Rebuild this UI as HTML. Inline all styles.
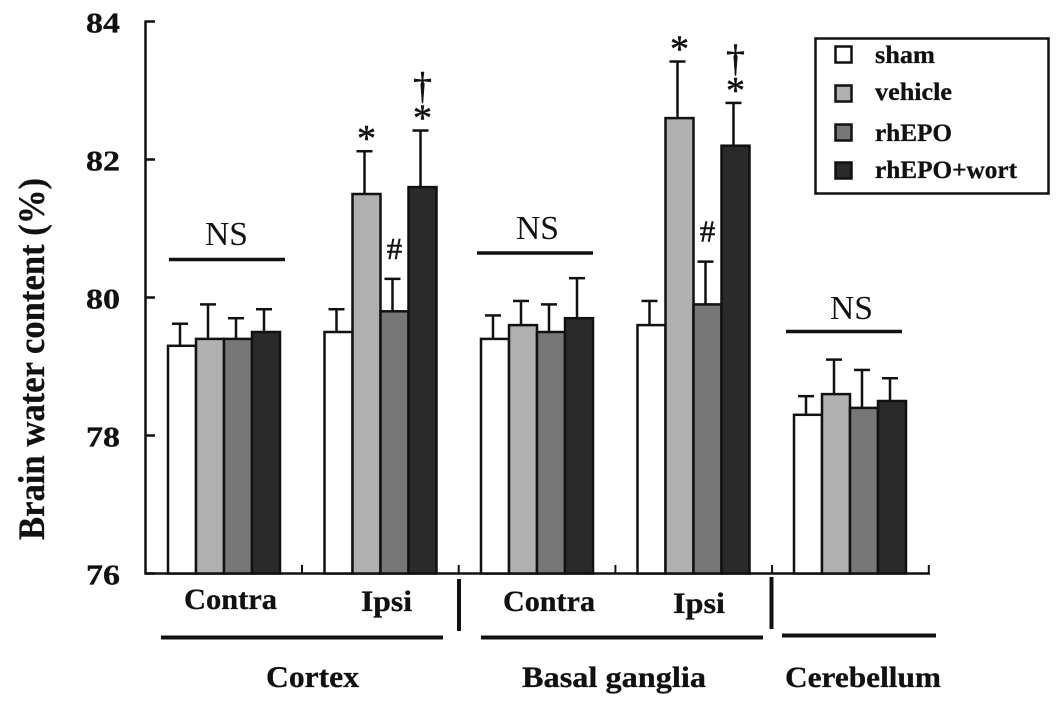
<!DOCTYPE html>
<html>
<head>
<meta charset="utf-8">
<style>
html,body{margin:0;padding:0;background:#fff;}
svg{display:block;}
text{font-family:"Liberation Serif",serif;fill:#111;}
.b{font-weight:bold;stroke:#111;stroke-width:0.3px;}
.m{stroke:#111;stroke-width:0.5px;}
</style>
</head>
<body>
<svg id="chart" width="1063" height="707" viewBox="0 0 1063 707" xmlns="http://www.w3.org/2000/svg">
  <text class="b" transform="translate(44,540) rotate(-90)" font-size="37" textLength="362" lengthAdjust="spacingAndGlyphs">Brain water content (%)</text>
  <g id="axes"></g>
  <g id="bars"></g>
  <g id="notes"></g>

  <g stroke="#111" stroke-width="3.5">
    <line x1="169" x2="285" y1="259.5" y2="259.5"/>
    <line x1="477" x2="593" y1="253" y2="253"/>
    <line x1="786" x2="902" y1="331.5" y2="331.5"/>
  </g>
  <text x="205" y="245" font-size="34" textLength="43" lengthAdjust="spacingAndGlyphs">NS</text>
  <text x="516" y="239" font-size="34" textLength="43" lengthAdjust="spacingAndGlyphs">NS</text>
  <text x="830" y="319" font-size="34" textLength="43" lengthAdjust="spacingAndGlyphs">NS</text>

  <g stroke="#111" stroke-width="4">
    <line x1="161" x2="443" y1="637.5" y2="637.5"/>
    <line x1="481" x2="763" y1="637.5" y2="637.5"/>
    <line x1="782" x2="936" y1="635.5" y2="635.5"/>
    <line x1="459" x2="459" y1="579" y2="631"/>
    <line x1="771.5" x2="771.5" y1="577" y2="629"/>
  </g>

  <text class="b" x="184" y="609" font-size="30" textLength="93" lengthAdjust="spacingAndGlyphs">Contra</text>
  <text class="b" x="361" y="611" font-size="30" textLength="51" lengthAdjust="spacingAndGlyphs">Ipsi</text>
  <text class="b" x="503" y="611" font-size="30" textLength="92" lengthAdjust="spacingAndGlyphs">Contra</text>
  <text class="b" x="673" y="613" font-size="30" textLength="52" lengthAdjust="spacingAndGlyphs">Ipsi</text>
  <text class="b" x="266" y="687" font-size="31" textLength="93" lengthAdjust="spacingAndGlyphs">Cortex</text>
  <text class="b" x="522" y="687" font-size="30" textLength="184" lengthAdjust="spacingAndGlyphs">Basal ganglia</text>
  <text class="b" x="785" y="687" font-size="30" textLength="156" lengthAdjust="spacingAndGlyphs">Cerebellum</text>

  <g>
    <rect x="815.5" y="38.5" width="233" height="155" fill="#fff" stroke="#111" stroke-width="2.5"/>
    <rect x="835.5" y="46.5" width="16" height="16" fill="#fff" stroke="#111" stroke-width="2.5"/>
    <rect x="835.5" y="85.5" width="16" height="16" fill="#b0b0b0" stroke="#111" stroke-width="2.5"/>
    <rect x="835.5" y="124.5" width="16" height="16" fill="#777" stroke="#111" stroke-width="2.5"/>
    <rect x="835.5" y="162.5" width="16" height="16" fill="#2a2a2a" stroke="#111" stroke-width="2.5"/>
    <text class="b" x="875" y="63" font-size="25" textLength="60" lengthAdjust="spacingAndGlyphs">sham</text>
    <text class="b" x="875" y="100" font-size="25" textLength="77" lengthAdjust="spacingAndGlyphs">vehicle</text>
    <text class="b" x="875" y="141" font-size="25" textLength="77" lengthAdjust="spacingAndGlyphs">rhEPO</text>
    <text class="b" x="875" y="178" font-size="25" textLength="142" lengthAdjust="spacingAndGlyphs">rhEPO+wort</text>
  </g>
</svg>
<script>
const tickLabels = [76, 78, 80, 82, 84];
const groups = ['cortex-contra', 'cortex-ipsi', 'basal-contra', 'basal-ipsi', 'cerebellum'];
const seriesNames = ['sham', 'vehicle', 'rhepo', 'rhepo-wort'];
const sham = [79.3, 79.5, 79.4, 79.6, 78.3];
const vehicle = [79.4, 81.5, 79.6, 82.6, 78.6];
const rhEPO = [79.4, 79.8, 79.5, 79.9, 78.4];
const rhEPOwort = [79.5, 81.6, 79.7, 82.2, 78.5];
const shamErr = [0.32, 0.33, 0.34, 0.35, 0.27];
const vehicleErr = [0.5, 0.62, 0.35, 0.82, 0.5];
const rhEPOErr = [0.3, 0.47, 0.4, 0.62, 0.55];
const rhEPOwortErr = [0.33, 0.82, 0.58, 0.62, 0.33];
const noteSymbols = ['*', '*', '\u2020', '#', '*', '*', '\u2020', '#'];
const noteGroups = [1, 1, 1, 1, 3, 3, 3, 3];
const noteSeries = [1, 3, 3, 2, 1, 3, 3, 2];

const NS = 'http://www.w3.org/2000/svg';
const fills = ['#fff', '#b0b0b0', '#777', '#2a2a2a'];
const allValues = [sham, vehicle, rhEPO, rhEPOwort];
const allErrors = [shamErr, vehicleErr, rhEPOErr, rhEPOwortErr];

function yScale(v) { return 573.5 - (v - 76) * 69; }
function barLeft(g, s) { return 168 + g * 156.5 + s * 28; }

const axes = document.getElementById('axes');
const barsLayer = document.getElementById('bars');
const notesLayer = document.getElementById('notes');

function makeLine(x1, y1, x2, y2, w) {
  const l = document.createElementNS(NS, 'line');
  l.setAttribute('x1', x1);
  l.setAttribute('y1', y1);
  l.setAttribute('x2', x2);
  l.setAttribute('y2', y2);
  l.setAttribute('stroke', '#111');
  l.setAttribute('stroke-width', w);
  return l;
}

groups.forEach(function (group, g) {
  seriesNames.forEach(function (name, s) {
    const v = allValues[s][g];
    const e = allErrors[s][g];
    const left = barLeft(g, s);
    const cx = left + 12;
    const stem = makeLine(cx, yScale(v), cx, yScale(v + e), 2.5);
    
    
    barsLayer.appendChild(stem);
    const cap = makeLine(cx - 8, yScale(v + e), cx + 8, yScale(v + e), 2.5);
    
    
    barsLayer.appendChild(cap);
  });
  seriesNames.forEach(function (name, s) {
    const v = allValues[s][g];
    const rect = document.createElementNS(NS, 'rect');
    
    
    rect.setAttribute('x', barLeft(g, s));
    rect.setAttribute('y', yScale(v));
    rect.setAttribute('width', 28);
    rect.setAttribute('height', yScale(76) - yScale(v));
    rect.setAttribute('fill', fills[s]);
    rect.setAttribute('stroke', '#111');
    rect.setAttribute('stroke-width', 2.5);
    barsLayer.appendChild(rect);
  });
});

const yAxis = makeLine(145.5, 20.5, 145.5, 574.5, 2.5);


axes.appendChild(yAxis);

const xAxis = makeLine(144.5, 573.5, 930, 573.5, 2.5);


axes.appendChild(xAxis);

tickLabels.forEach(function (t) {
  const tick = makeLine(145.5, yScale(t), 155, yScale(t), 2.5);
  
  
  axes.appendChild(tick);
  const label = document.createElementNS(NS, 'text');
  
  
  label.setAttribute('class', 'b');
  label.setAttribute('x', 86);
  label.setAttribute('y', yScale(t) + 11);
  label.setAttribute('font-size', 29);
  label.setAttribute('textLength', 34);
  label.setAttribute('lengthAdjust', 'spacingAndGlyphs');
  label.textContent = t;
  axes.appendChild(label);
});

groups.forEach(function (group, g) {
  const x = 302 + g * 156.7;
  const tick = makeLine(x, 565, x, 573.5, 2);
  
  
  axes.appendChild(tick);
});

noteSymbols.forEach(function (sym, i) {
  const g = noteGroups[i];
  const s = noteSeries[i];
  const top = yScale(allValues[s][g] + allErrors[s][g]);
  const isDagger = sym === '\u2020';
  const isHash = sym === '#';
  const t = document.createElementNS(NS, 'text');
  
  
  t.setAttribute('class', 'm');
  t.setAttribute('text-anchor', 'middle');
  t.setAttribute('x', barLeft(g, s) + 14);
  t.setAttribute('y', top - (isDagger ? 32 : (isHash ? 20 : 0)));
  t.setAttribute('font-size', isDagger ? 38 : (isHash ? 31 : 38));
  t.textContent = sym;
  notesLayer.appendChild(t);
});
</script>
</body>
</html>
